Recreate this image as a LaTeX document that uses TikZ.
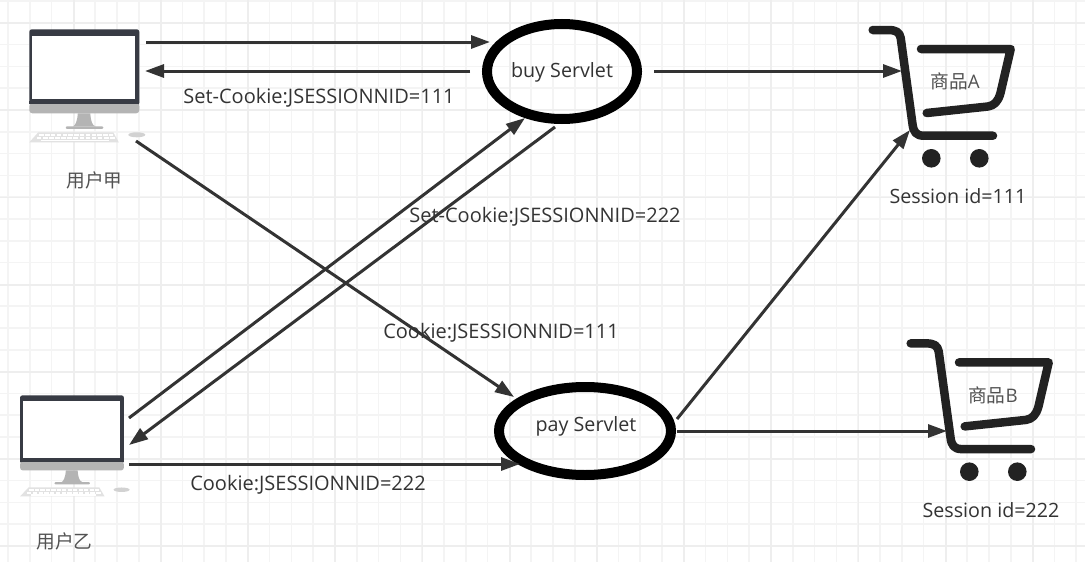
\documentclass[tikz,border=0pt]{standalone}
\usepackage{fontspec}
\setmainfont{Open Sans}
\newfontfamily\cjk{Noto Sans CJK SC}
\usetikzlibrary{arrows.meta,shapes.geometric}
\definecolor{gridminor}{HTML}{F4F4F4}
\definecolor{gridmajor}{HTML}{EEEEEE}
\definecolor{ink}{HTML}{333333}
\definecolor{cartink}{HTML}{222222}
\definecolor{screenedge}{HTML}{383B44}
\definecolor{baseg}{HTML}{B4B4B4}
\definecolor{keyg}{HTML}{E2E2E2}
\tikzset{
  x=1pt,y=-1pt,
  conn/.style={draw=ink,line width=3pt,-{Triangle[length=19pt,width=13pt]}},
  lab/.style={inner sep=0pt,text=ink,font=\fontsize{19.7}{22}\selectfont},
  cookielab/.style={lab,font=\fontsize{20}{22}\selectfont},
  cjklab/.style={inner sep=0pt,text=ink!85!white,font=\fontsize{18.7}{22}\selectfont},
  servlet/.style={draw=black,line width=10pt,ellipse,fill=none},
  cartline/.style={draw=cartink,line width=8.5pt,line cap=round,line join=round},
  pics/computer/.style={code={
    \fill[screenedge,rounded corners=2.5pt] (0,0) rectangle (110,76);
    \fill[baseg,rounded corners=3pt] (0,74) rectangle (110,84);
    \fill[screenedge] (0,72) rectangle (110,75);
    \fill[white] (3,6.5) rectangle (105.7,70);
    \fill[baseg] (48.5,84) .. controls (48,92) and (46,96) .. (44,97) -- (66,97) .. controls (63,96) and (61.5,92) .. (61,84) -- cycle;
    \fill[baseg,rounded corners=1pt] (36.5,97) rectangle (74,99.5);
    \fill[keyg] (9,103) -- (84,103) -- (89.5,113) -- (0,113) -- cycle;
    \foreach \k in {0,...,12} {\fill[white] (10+\k*5.8,104.5) rectangle +(4.4,2);\fill[white] (7.5+\k*6.1,108) rectangle +(4.6,2);}
    \fill[white] (12,110.8) rectangle (80,112);
    \fill[baseg!60!white] (107.5,105.5) ellipse [x radius=8.5,y radius=2.5];
  }},
  pics/cart/.style={code={
    \draw[cartline] (872.7,30) -- (888,30) .. controls (896,30) and (899.5,32) .. (900.7,38) -- (912.5,124) .. controls (913.5,132) and (916,135.7) .. (924,135.7) -- (993,135.7);
    \draw[cartline] (921,49) -- (1010.7,49) -- (1000.5,93) .. controls (998,102) and (994,105.5) .. (988,106.5) -- (926.7,113);
    \fill[cartink] (931.3,158.3) circle [radius=9.3];
    \fill[cartink] (979.3,158.3) circle [radius=9.3];
  }}
}
\begin{document}
\begin{tikzpicture}
\useasboundingbox (0,0) rectangle (1085,562);
\fill[white] (0,0) rectangle (1085,562);
\foreach \i in {0,...,50} {\draw[gridminor,line width=1.5pt] (8+\i*21.8,0) -- (8+\i*21.8,562);}
\foreach \i in {0,...,26} {\draw[gridminor,line width=1.5pt] (0,1+\i*21.8) -- (1085,1+\i*21.8);}
\foreach \i in {0,...,12} {\draw[gridmajor,line width=1.8pt] (-13.5+\i*87.2,0) -- (-13.5+\i*87.2,562);}
\foreach \i in {0,...,6} {\draw[gridmajor,line width=1.8pt] (0,23+\i*87.2) -- (1085,23+\i*87.2);}
\pic at (29.3,29.3) {computer};
\pic[xscale=.945,yscale=.895] at (20,395.3) {computer};
\pic at (0,0) {cart};
\pic at (38,313.4) {cart};
\node[servlet,minimum width=150pt,minimum height=95pt,inner sep=0pt] (buy) at (562,71.5) {};
\node[servlet,minimum width=172pt,minimum height=88pt,inner sep=0pt] (pay) at (585,431) {};
\node[lab] (buyt) at (562,72.5) {buy Servlet};
\node[lab] (payt) at (586,426) {pay Servlet};
\node[cjklab] (u1) at (94.5,180) {\cjk 用户甲};
\node[cjklab] (u2) at (64.5,541) {\cjk 用户乙};
\node[cjklab] (ca) at (955,81) {\cjk 商品\rmfamily A};
\node[cjklab] (cb) at (993,395) {\cjk 商品\rmfamily B};
\node[lab] (sa) at (958,196.3) {Session id=111};
\node[lab] (sb) at (991,510.3) {Session id=222};
\node[cookielab] (l1) at (319,97.5) {Set-Cookie:JSESSIONNID=111};
\node[cookielab] (l2) at (545,217) {Set-Cookie:JSESSIONNID=222};
\node[cookielab] (l3) at (501,333) {Cookie:JSESSIONNID=111};
\node[cookielab] (l4) at (308,485) {Cookie:JSESSIONNID=222};
\coordinate (a1) at (146,42); \coordinate (b1) at (490,42);
\coordinate (a2) at (470,71); \coordinate (b2) at (145,71);
\coordinate (a3) at (654,71); \coordinate (b3) at (902,71);
\coordinate (a4) at (136,141); \coordinate (b4) at (514,397);
\coordinate (a5) at (129,418); \coordinate (b5) at (525,118);
\coordinate (a6) at (555,127); \coordinate (b6) at (129,445);
\coordinate (a7) at (129,464); \coordinate (b7) at (520,464);
\coordinate (a8) at (677,419); \coordinate (b8) at (910,130);
\coordinate (a9) at (677,431); \coordinate (b9) at (947,431);
\foreach \n in {1,...,9} {\draw[conn] (a\n) -- (b\n);}
\end{tikzpicture}
\end{document}
